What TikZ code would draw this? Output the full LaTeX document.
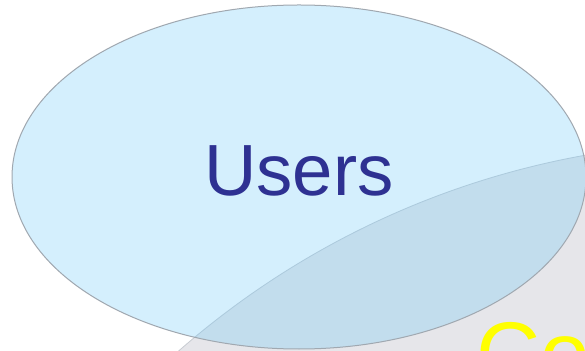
\documentclass[tikz,border=0pt]{standalone}
\usepackage{fontspec}
\setmainfont{Liberation Sans}
\usepackage{tikz}
\usetikzlibrary{shapes.geometric,positioning,calc}
\definecolor{usersfill}{RGB}{101,198,248}
\definecolor{usersline}{RGB}{160,168,176}
\definecolor{userstext}{RGB}{46,49,146}
\definecolor{bubblefill}{RGB}{230,230,234}
\definecolor{bubbleline}{RGB}{200,204,210}
\definecolor{bubbletext}{RGB}{255,255,0}

\begin{document}
\begin{tikzpicture}
          [x=1pt,y=1pt,
          usersset/.style={ellipse,draw=usersline,line width=1pt,fill=usersfill,fill opacity=0.28,text opacity=1,
            text=userstext,inner sep=0pt,minimum width=574pt,minimum height=344pt},
          bubble/.style={circle,draw=bubbleline,line width=0.8pt,fill=bubblefill,inner sep=0pt,minimum size=1690pt},
          bigword/.style={font=\fontsize{72.5}{87}\selectfont,text depth=13pt},
          hugeword/.style={font=\fontsize{89}{107}\selectfont,text=bubbletext,inner sep=0pt}
          ]
          \useasboundingbox (0,0) rectangle (585,350);
          \fill[white] (0,0) rectangle (585,350);
          \begin{scope}
            % the grey bubble, mostly off the page
            \node[bubble] (cobubble) at (735,-637) {};
            \node[hugeword,anchor=base west] (coword) at (476,-34) {Co};

            % the users bubble on top
            \node[usersset,bigword] (users) at (299,173) {Users};
          \end{scope}
        \end{tikzpicture}
\end{document}
